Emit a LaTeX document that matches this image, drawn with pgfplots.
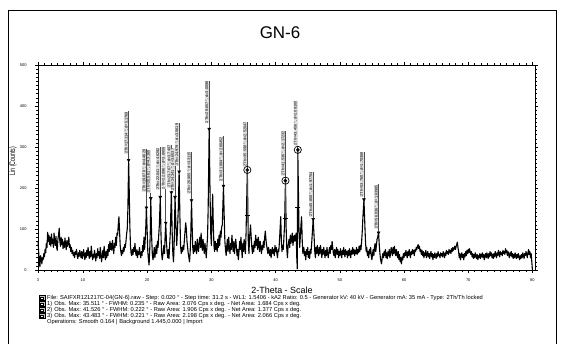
\documentclass[border=0pt]{standalone}
\usepackage{fontspec}
\setmainfont{Liberation Sans}
\usepackage{pgfplots}
\usepackage{pgfplotstable}
\pgfplotsset{compat=1.18}
\pgfplotstableread{
x y
3.0 70
3.1 45
3.2 20
3.3 8
3.4 35
3.5 28
3.6 15
3.7 30
3.8 25
3.9 40
4.0 32
4.1 50
4.2 42
4.3 65
4.4 55
4.5 92
4.6 70
4.7 85
4.8 62
4.9 80
5.0 58
5.1 88
5.2 65
5.3 75
5.4 55
5.5 90
5.6 70
5.7 60
5.8 82
5.9 55
6.0 48
6.1 75
6.2 85
6.3 102
6.4 70
6.5 58
6.6 80
6.7 62
6.8 75
6.9 52
7.0 68
7.1 55
7.2 78
7.3 60
7.4 50
7.5 72
7.6 58
7.7 65
7.8 80
7.9 55
8.0 62
8.1 45
8.2 55
8.3 40
8.4 48
8.5 35
8.6 42
8.7 30
8.8 45
8.9 38
9.0 50
9.1 35
9.2 28
9.3 42
9.4 33
9.5 48
9.6 40
9.7 30
9.8 45
9.9 28
10.0 38
10.1 50
10.2 35
10.3 25
10.4 42
10.5 30
10.6 48
10.7 35
10.8 55
10.9 38
11.0 28
11.1 45
11.2 32
11.3 58
11.4 40
11.5 25
11.6 38
11.7 30
11.8 48
11.9 35
12.0 22
12.1 40
12.2 30
12.3 52
12.4 35
12.5 45
12.6 28
12.7 55
12.8 38
12.9 20
13.0 35
13.1 48
13.2 30
13.3 58
13.4 40
13.5 25
13.6 45
13.7 30
13.8 50
13.9 35
14.0 62
14.1 45
14.2 70
14.3 50
14.4 65
14.5 48
14.6 72
14.7 55
14.8 40
14.9 65
15.0 55
15.1 80
15.2 60
15.3 90
15.4 85
15.5 110
15.6 130
15.7 95
15.8 60
15.9 45
16.0 35
16.1 48
16.2 40
16.3 55
16.4 45
16.5 62
16.6 55
16.7 70
16.8 88
16.9 100
17.0 150
17.114 268
17.2 200
17.3 110
17.4 60
17.5 40
17.6 35
17.7 50
17.8 38
17.9 55
18.0 45
18.1 65
18.2 42
18.3 35
18.4 50
18.5 30
18.6 45
18.7 38
18.8 55
18.9 40
19.0 30
19.1 45
19.2 35
19.3 60
19.4 45
19.5 80
19.6 50
19.7 75
19.8 110
19.878 152
20.0 95
20.1 45
20.2 25
20.3 12
20.4 50
20.5 100
20.561 175
20.7 80
20.8 40
20.9 25
21.0 35
21.1 55
21.2 30
21.3 45
21.4 60
21.5 40
21.6 70
21.7 55
21.8 85
21.9 110
22.041 178
22.15 90
22.25 40
22.35 25
22.5 45
22.6 60
22.7 40
22.8 85
22.896 115
23.0 70
23.1 45
23.2 30
23.3 50
23.4 28
23.5 60
23.6 90
23.767 189
23.9 90
24.0 40
24.1 20
24.2 60
24.341 178
24.5 100
24.6 60
24.7 90
24.85 150
24.979 240
25.1 130
25.2 60
25.3 40
25.4 55
25.5 45
25.6 60
25.7 50
25.8 75
25.9 95
26.0 115
26.1 100
26.2 70
26.3 55
26.4 40
26.5 30
26.6 20
26.7 45
26.8 90
26.905 170
27.0 110
27.1 55
27.2 40
27.3 60
27.4 45
27.5 70
27.6 55
27.7 40
27.8 75
27.9 55
28.0 45
28.1 70
28.2 80
28.3 55
28.4 90
28.5 60
28.6 48
28.7 75
28.8 55
28.9 40
29.0 65
29.1 50
29.2 30
29.3 55
29.4 80
29.5 150
29.657 344
29.8 180
29.9 90
30.0 60
30.1 130
30.2 185
30.3 110
30.4 60
30.5 45
30.6 70
30.7 50
30.8 65
30.9 45
31.0 75
31.1 55
31.2 85
31.3 60
31.4 95
31.5 80
31.6 105
31.7 110
31.884 205
32.0 130
32.1 70
32.2 50
32.3 35
32.4 60
32.5 75
32.6 45
32.7 80
32.8 55
32.9 40
33.0 65
33.1 50
33.2 85
33.3 60
33.4 45
33.5 70
33.6 40
33.7 60
33.8 75
33.9 55
34.0 35
34.1 50
34.2 25
34.3 45
34.4 70
34.5 50
34.6 80
34.7 55
34.8 30
34.9 65
35.0 45
35.1 75
35.2 55
35.3 40
35.4 90
35.598 244
35.75 70
35.85 40
35.95 80
36.1 110
36.2 80
36.3 55
36.4 40
36.5 60
36.6 45
36.7 70
36.8 55
36.9 85
37.0 60
37.1 75
37.2 50
37.3 80
37.4 65
37.5 45
37.6 70
37.7 55
37.8 40
37.9 60
38.0 50
38.1 70
38.2 55
38.3 80
38.4 95
38.5 75
38.6 60
38.7 50
38.8 40
38.9 55
39.0 45
39.1 35
39.2 50
39.3 30
39.4 45
39.5 55
39.6 40
39.7 50
39.8 35
39.9 60
40.0 45
40.1 55
40.2 40
40.3 30
40.4 50
40.5 45
40.6 70
40.7 100
40.8 130
40.9 70
41.0 45
41.1 60
41.2 50
41.3 80
41.4 110
41.536 218
41.65 100
41.75 50
41.85 30
41.95 60
42.1 75
42.2 55
42.3 85
42.4 65
42.5 80
42.6 90
42.7 60
42.8 75
42.9 85
43.0 70
43.1 80
43.2 90
43.3 30
43.38 3
43.456 293
43.55 200
43.65 90
43.75 55
43.85 80
43.95 110
44.05 130
44.15 70
44.25 40
44.4 55
44.5 35
44.6 45
44.7 25
44.8 50
44.9 38
45.0 55
45.1 30
45.2 45
45.3 28
45.4 50
45.5 40
45.6 60
45.7 85
45.85 124
46.0 80
46.1 45
46.2 30
46.3 55
46.4 40
46.5 60
46.6 45
46.7 35
46.8 55
46.9 40
47.0 60
47.1 45
47.2 30
47.3 50
47.4 38
47.5 55
47.6 42
47.7 30
47.8 48
47.9 35
48.0 55
48.1 40
48.2 30
48.3 45
48.4 55
48.5 40
48.6 60
48.7 50
48.8 70
48.9 55
49.0 40
49.1 35
49.2 50
49.3 30
49.4 45
49.5 55
49.6 38
49.7 50
49.8 30
49.9 45
50.0 35
50.1 52
50.2 40
50.3 30
50.4 48
50.5 38
50.6 55
50.7 40
50.8 32
50.9 50
51.0 38
51.1 45
51.2 30
51.3 48
51.4 35
51.5 52
51.6 40
51.7 30
51.8 48
51.9 38
52.0 55
52.1 40
52.2 50
52.3 35
52.4 48
52.5 40
52.6 55
52.7 38
52.8 50
52.9 42
53.0 58
53.1 45
53.2 60
53.3 50
53.4 70
53.5 95
53.6 130
53.76 172
53.9 110
54.0 70
54.1 45
54.2 55
54.3 35
54.4 45
54.5 30
54.6 50
54.7 40
54.8 55
54.9 35
55.0 25
55.1 40
55.2 50
55.3 35
55.4 55
55.5 65
55.6 45
55.7 60
55.8 75
55.9 80
56.036 91
56.15 60
56.25 40
56.35 25
56.5 15
56.6 30
56.7 40
56.8 30
56.9 45
57.0 35
57.1 50
57.2 30
57.3 42
57.4 28
57.5 45
57.6 35
57.7 50
57.8 30
57.9 40
58.0 55
58.1 45
58.2 35
58.3 55
58.4 40
58.5 58
58.6 45
58.7 35
58.8 50
58.9 40
59.0 30
59.1 45
59.2 25
59.3 38
59.4 20
59.5 30
59.6 15
59.7 32
59.8 25
59.9 40
60.0 30
60.1 42
60.2 35
60.3 48
60.4 38
60.5 30
60.6 45
60.7 35
60.8 50
60.9 40
61.0 30
61.1 45
61.2 38
61.3 50
61.4 40
61.5 48
61.6 35
61.7 50
61.8 45
61.9 55
62.0 50
62.1 58
62.2 62
62.3 52
62.4 58
62.5 45
62.6 50
62.7 38
62.8 48
62.9 35
63.0 45
63.1 30
63.2 42
63.3 35
63.4 48
63.5 30
63.6 38
63.7 45
63.8 32
63.9 40
64.0 28
64.1 38
64.2 45
64.3 32
64.4 40
64.5 25
64.6 38
64.7 30
64.8 42
64.9 35
65.0 28
65.1 40
65.2 32
65.3 45
65.4 35
65.5 38
65.6 30
65.7 42
65.8 35
65.9 40
66.0 32
66.1 45
66.2 38
66.3 30
66.4 42
66.5 35
66.6 48
66.7 40
66.8 45
66.9 38
67.0 50
67.1 42
67.2 48
67.3 40
67.4 52
67.5 45
67.6 55
67.7 48
67.8 52
67.9 58
68.0 50
68.1 56
68.2 62
68.3 68
68.4 55
68.5 45
68.6 30
68.7 40
68.8 25
68.9 35
69.0 42
69.1 30
69.2 38
69.3 25
69.4 40
69.5 32
69.6 45
69.7 35
69.8 48
69.9 40
70.0 50
70.1 42
70.2 52
70.3 45
70.4 38
70.5 45
70.6 32
70.7 40
70.8 28
70.9 38
71.0 30
71.1 42
71.2 35
71.3 28
71.4 38
71.5 25
71.6 35
71.7 30
71.8 40
71.9 28
72.0 38
72.1 32
72.2 42
72.3 30
72.4 38
72.5 25
72.6 35
72.7 40
72.8 30
72.9 42
73.0 35
73.1 28
73.2 40
73.3 32
73.4 45
73.5 35
73.6 42
73.7 30
73.8 38
73.9 28
74.0 40
74.1 32
74.2 45
74.3 38
74.4 30
74.5 42
74.6 35
74.7 48
74.8 40
74.9 32
75.0 45
75.1 38
75.2 42
75.3 35
75.4 48
75.5 40
75.6 45
75.7 38
75.8 52
75.9 42
76.0 48
76.1 35
76.2 45
76.3 38
76.4 30
76.5 42
76.6 35
76.7 45
76.8 32
76.9 40
77.0 28
77.1 38
77.2 30
77.3 42
77.4 35
77.5 28
77.6 38
77.7 30
77.8 40
77.9 32
78.0 25
78.1 35
78.2 28
78.3 38
78.4 30
78.5 42
78.6 35
78.7 28
78.8 40
78.9 35
79.0 45
79.1 38
79.2 30
79.3 42
79.4 50
79.5 38
79.6 45
79.7 30
79.8 40
79.9 20
80.0 0
}\curve
\newcommand{\pk}[4]{%
  \addplot[black!70, line width=0.9bp] coordinates {(#1,#2) (#1,#3)};
  \node[rotate=90, anchor=south east, fill=gray!25, inner sep=0.35bp,
        font=\fontsize{3.9}{4}\selectfont] at (axis cs:#1,#3) {#4};
}
\begin{document}
\begin{tikzpicture}[x=1bp,y=1bp]
\path[use as bounding box] (0,0) rectangle (561,343);
\draw[line width=0.8bp] (8,-5) -- (8,333) -- (556,333) -- (556,-5);
\node at (280,310) {\fontsize{17}{17}\selectfont GN-6};
\begin{axis}[
  at={(38bp,73bp)}, anchor=south west, scale only axis,
  width=497bp, height=205bp,
  xmin=3, xmax=80.4, ymin=0, ymax=500,
  axis line style={line width=0.8bp},
  xtick={3,10,20,30,40,50,60,70,80},
  minor xtick={4,5,...,80},
  ytick={0,100,200,300,400,500},
  minor y tick num=9,
  tick align=outside,
  major tick length=3bp, minor tick length=2bp,
  tick style={line width=0.6bp, black},
  tick label style={font=\fontsize{4}{4}\selectfont},
  /pgf/number format/assume math mode=true,
  yticklabel style={xshift=-5bp},
  xticklabel style={yshift=-2bp},
  clip=false,
]
\addplot[black, line width=1.1bp, line join=round] table[x=x, y=y] {\curve};
\pk{17.114}{268}{387}{2Th=17.114 °, d=5.1769}
\pk{19.878}{152}{295}{2Th=19.878 °, d=4.4628}
\pk{20.561}{175}{293}{2Th=20.561 °, d=4.3160}
\pk{22.041}{178}{299}{2Th=22.041 °, d=4.0292}
\pk{22.896}{115}{301}{2Th=22.896 °, d=3.8808}
\pk{23.767}{189}{305}{2Th=23.767 °, d=3.7407}
\pk{24.341}{178}{297}{2Th=24.341 °, d=3.6537}
\pk{24.979}{240}{358}{2Th=24.979 °, d=3.5619}
\pk{26.905}{170}{289}{2Th=26.905 °, d=3.3115}
\pk{29.657}{344}{462}{2Th=29.657 °, d=3.0098}
\pk{31.884}{205}{326}{2Th=31.884 °, d=2.80452}
\pk{35.598}{133}{362}{2Th=35.598 °, d=2.52047}
\pk{41.536}{125}{340}{2Th=41.536 °, d=2.17232}
\pk{43.456}{152}{413}{2Th=43.456 °, d=2.08100}
\pk{45.850}{124}{240}{2Th=45.850 °, d=1.97754}
\pk{53.760}{172}{289}{2Th=53.760 °, d=1.70368}
\pk{56.036}{91}{209}{2Th=56.036 °, d=1.63985}
\addplot[only marks, mark=triangle*, mark size=1.7bp, mark options={rotate=180, fill=black}] coordinates {
(17.114,268) (19.878,152) (20.561,175) (22.041,178) (22.896,115) (23.767,189)
(24.341,178) (24.979,240) (26.905,170) (29.657,344) (31.884,205) (45.850,124)
(53.760,172) (56.036,91)};
\addplot[only marks, mark=-, mark size=2.5bp, mark options={line width=0.7bp}] coordinates {(35.598,133) (41.536,125) (43.456,152)};
\addplot[only marks, mark=o, mark size=3.6bp, mark options={line width=0.7bp}] coordinates {(35.598,244) (41.536,218) (43.456,293)};
\addplot[only marks, mark=*, mark size=1.6bp] coordinates {(35.598,244) (41.536,218) (43.456,293)};
\end{axis}
\node at (282,53) {\fontsize{9}{9}\selectfont 2-Theta - Scale};
\node[rotate=90] at (13,182) {\scalebox{0.65}[1]{\fontsize{8}{8}\selectfont Lin (Counts)}};
\begin{scope}[font=\fontsize{5.75}{6}\selectfont]
\foreach \yy in {45,39,33,27} {
  \draw[line width=0.4bp, fill=gray!45] (39,\yy-2.6) rectangle (45.5,\yy+2.6);
  \draw[line width=0.3bp, fill=white] (40.5,\yy-1.5) rectangle (43,\yy+1);
}
\node[anchor=west, inner sep=0] at (47,45) {File: SAIFXR121217C-04(GN-6).raw - Step: 0.020 ° - Step time: 31.2 s - WL1: 1.5406 - kA2 Ratio: 0.5 - Generator kV: 40 kV - Generator mA: 35 mA - Type: 2Th/Th locked};
\node[anchor=west, inner sep=0] at (47,39) {1)\hspace{2bp}Obs. Max: 35.511 ° - FWHM: 0.235 ° - Raw Area: 2.076 Cps x deg. - Net Area: 1.684 Cps x deg.};
\node[anchor=west, inner sep=0] at (47,33) {2)\hspace{2bp}Obs. Max: 41.526 ° - FWHM: 0.222 ° - Raw Area: 1.906 Cps x deg. - Net Area: 1.377 Cps x deg.};
\node[anchor=west, inner sep=0] at (47,27) {3)\hspace{2bp}Obs. Max: 43.483 ° - FWHM: 0.221 ° - Raw Area: 2.198 Cps x deg. - Net Area: 2.066 Cps x deg.};
\node[anchor=west, inner sep=0] at (47,21) {Operations: Smooth 0.164 | Background 1.445,0.000 | Import};
\end{scope}
\end{tikzpicture}
\end{document}
